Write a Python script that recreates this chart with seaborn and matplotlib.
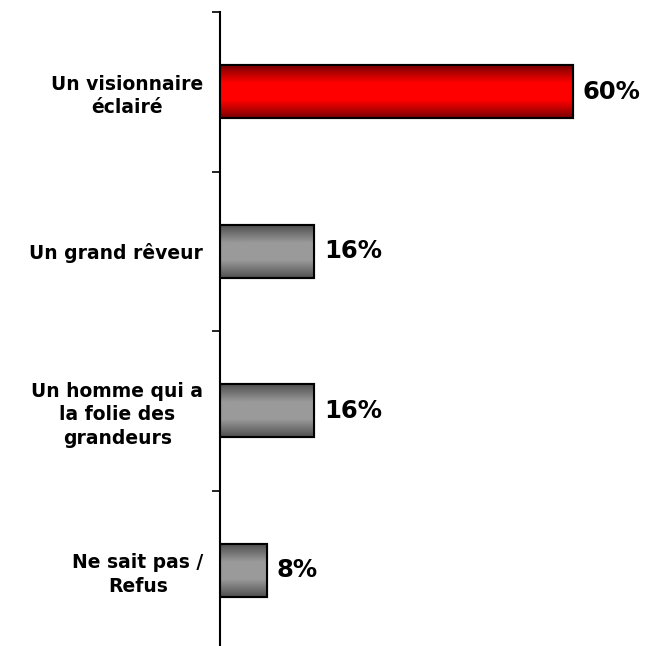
import numpy as np
import pandas as pd
import seaborn as sns
import matplotlib
matplotlib.use("Agg")
from matplotlib import pyplot as plt
from matplotlib.colors import LinearSegmentedColormap

# Données du graphique
categories = ["Un visionnaire\néclairé", "Un grand rêveur",
              "Un homme qui a\nla folie des\ngrandeurs", "Ne sait pas /\nRefus"]
valeurs = [60, 16, 16, 8]
etiquettes = ["60%", "16%", "16%", "8%"]
couleurs = ["#e00000", "#8a8a8a", "#8a8a8a", "#8a8a8a"]

df = pd.DataFrame({"categorie": categories, "valeur": valeurs})

sns.set_style("white")
plt.rcParams['font.family'] = ['DejaVu Sans']
plt.rcParams['text.color'] = 'black'
plt.rcParams['ytick.labelcolor'] = 'black'

fig = plt.figure(figsize=(6.57, 6.46), dpi=100)
ax = fig.add_axes([220 / 657, -4 / 646, 412 / 657, 638 / 646])

sns.barplot(data=df, y="categorie", x="valeur", hue="categorie", palette=couleurs,
            legend=False, orient="h", width=0.33, ax=ax, edgecolor="black", linewidth=1.5)

# Dégradé vertical sur chaque barre
cmap_rouge = LinearSegmentedColormap.from_list("r", ["#7a0000", "#ff0000", "#ff0000", "#7a0000"])
cmap_gris = LinearSegmentedColormap.from_list("g", ["#505050", "#9a9a9a", "#9a9a9a", "#505050"])
grad = np.linspace(0, 1, 100).reshape(-1, 1)
barres = sorted([p for p in ax.patches if p.get_width() > 0], key=lambda p: p.get_y())
for i, p in enumerate(barres):
    x0, y0 = p.get_x(), p.get_y()
    w, h = p.get_width(), p.get_height()
    cmap = cmap_rouge if i == 0 else cmap_gris
    im = ax.imshow(grad, cmap=cmap, aspect="auto", extent=(x0, x0 + w, y0 + h, y0),
                   zorder=p.get_zorder() + 0.1)
    im.set_clip_path(p)
    ax.add_patch(plt.Rectangle((x0, y0), w, h, fill=False, edgecolor="black",
                               linewidth=1.5, zorder=p.get_zorder() + 0.2))
    ax.annotate(etiquettes[i], (x0 + w, y0 + h / 2), xytext=(7, 0), textcoords="offset points",
                ha="left", va="center", fontsize=17.5, fontweight="bold", color="black")

ax.set_xlim(0, 70)
ax.set_ylim(3.5, -0.5)
ax.set_xlabel("")
ax.set_ylabel("")
ax.set_xticks([])

for s in ["top", "right", "bottom"]:
    ax.spines[s].set_visible(False)
ax.spines["left"].set_linewidth(1.5)
ax.spines["left"].set_color("black")

ax.set_yticks(range(len(categories)))
ax.set_yticklabels(categories, fontsize=13.5, fontweight="bold", ha="right",
                   multialignment="center", linespacing=1.3, color="black")
ax.set_yticks([-0.5, 0.5, 1.5, 2.5, 3.5], minor=True)
ax.tick_params(axis="y", which="major", length=0, pad=12)
ax.tick_params(axis="y", which="minor", length=6, width=1.2, color="black", direction="out", left=True)

plt.savefig("out.png", dpi=100)
